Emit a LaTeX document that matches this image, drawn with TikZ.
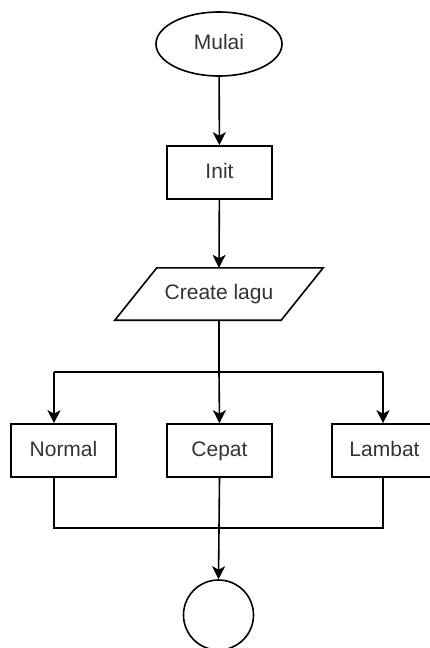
\documentclass[tikz,border=0pt]{standalone}
\usepackage{fontspec}
\setmainfont{Liberation Sans}
\usetikzlibrary{arrows.meta,shapes.geometric,calc}
\begin{document}
\begin{tikzpicture}[x=1pt,y=-1pt,
  font=\fontsize{21}{24}\selectfont,
  every node/.style={text=black!80, inner sep=0pt, text height=15pt, text depth=4pt},
  line/.style={draw=black, line width=1.6pt},
  flowarrow/.style={line, -{Stealth[length=13pt,width=13pt,inset=3.5pt]}},
  box/.style={line, minimum width=105pt, minimum height=53pt},
  terminal/.style={line, ellipse, minimum width=126pt, minimum height=64pt},
  endpoint/.style={line, circle, minimum size=70pt}
]
\useasboundingbox (0,0) rectangle (429,648);

% process steps
\node[terminal] (mulai) at (219,44) {Mulai};
\node[box] (init) at (219.5,172.5) {Init};
\node[minimum width=166pt, minimum height=52pt] (create) at (219,294) {Create lagu};
\draw[line] ($(create.north west)+(21,0)$) -- ($(create.north east)+(21,0)$)
  -- ($(create.south east)+(-21,0)$) -- ($(create.south west)+(-21,0)$) -- cycle;

\node[box] (normal) at (63.5,450.5) {Normal};
\node[box] (cepat) at (219.5,450.5) {Cepat};
\node[box] (lambat) at (384.5,450.5) {Lambat};
\node[endpoint] (selesai) at (218.5,615) {};

% branching and joining points
\coordinate (split) at (219,372);
\coordinate (nBranch) at (54,372);
\coordinate (lBranch) at (383,372);
\coordinate (nJoin) at (54,528);
\coordinate (lJoin) at (383,528);

% connectors
\draw[flowarrow] (mulai) -- (init);
\draw[flowarrow] (init) -- (create.north);
\draw[line] (create.south) -- (split);
\draw[line] (nBranch) -- (lBranch);
\draw[flowarrow] (nBranch) -- (nBranch |- normal.north);
\draw[flowarrow] (split) -- (cepat.north);
\draw[flowarrow] (lBranch) -- (lBranch |- lambat.north);
\draw[line] (nBranch |- normal.south) -- (nJoin) -- (lJoin) -- (lBranch |- lambat.south);
\draw[flowarrow] (cepat.south) -- (selesai.north);
\end{tikzpicture}
\end{document}
